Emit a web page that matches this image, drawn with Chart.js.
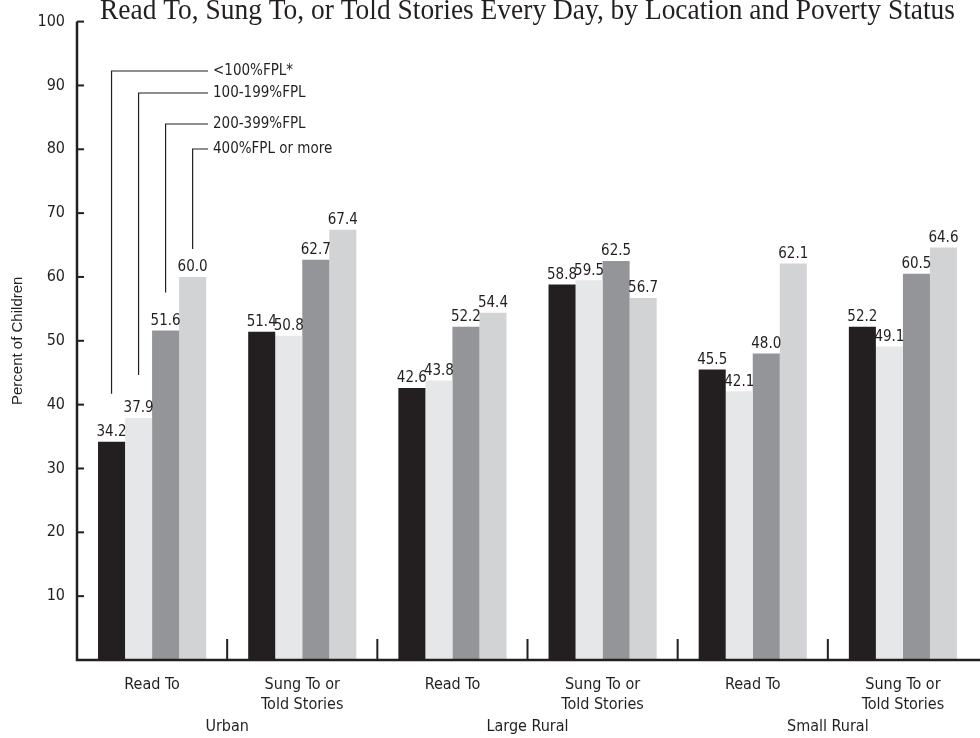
<!DOCTYPE html>
<html lang="en">
<head>
    <meta charset="UTF-8">
    <title>Read To, Sung To, or Told Stories Every Day</title>
    <script src="https://cdn.jsdelivr.net/npm/chart.js"></script>
    <style>
        body { margin: 0; background: #fff; }
        #wrap { width: 980px; height: 738px; }
    </style>
</head>
<body>
    <div id="wrap"><canvas id="chart" width="980" height="738"></canvas></div>

    <script>
        // data
        const activities = [
            ['Read To'], ['Sung To or', 'Told Stories'],
            ['Read To'], ['Sung To or', 'Told Stories'],
            ['Read To'], ['Sung To or', 'Told Stories']
        ];
        const locations = ['Urban', 'Large Rural', 'Small Rural'];
        const seriesNames = ['<100%FPL*', '100-199%FPL', '200-399%FPL', '400%FPL or more'];
        const below100 = [34.2, 51.4, 42.6, 58.8, 45.5, 52.2];
        const fpl100to199 = [37.9, 50.8, 43.8, 59.5, 42.1, 49.1];
        const fpl200to399 = [51.6, 62.7, 52.2, 62.5, 48.0, 60.5];
        const fpl400plus = [60.0, 67.4, 54.4, 56.7, 62.1, 64.6];
        const yTicks = [10, 20, 30, 40, 50, 60, 70, 80, 90, 100];

        const ink = '#231f20';
        const narrow = '"Liberation Sans Narrow", "DejaVu Sans Condensed", sans-serif';
        const colors = ['#231f20', '#e6e7e8', '#939598', '#d1d3d4'];
        const seriesData = [below100, fpl100to199, fpl200to399, fpl400plus];

        // leader lines for the legend: where each line turns and how far it stops above its bar (pixels)
        const leaderTurnY = [71, 93, 124, 149];
        const leaderGap = [48, 43, 38, 28];

        const decor = {
            id: 'decor',
            afterDatasetsDraw(chart) {
                const ctx = chart.ctx;
                const x = chart.scales.x, y = chart.scales.y;
                const area = chart.chartArea;
                ctx.save();

                // value labels
                ctx.fillStyle = ink;
                ctx.font = '15px ' + narrow;
                ctx.textAlign = 'center';
                ctx.textBaseline = 'bottom';
                chart.data.datasets.forEach((ds, di) => {
                    chart.getDatasetMeta(di).data.forEach((bar, i) => {
                        ctx.fillText(ds.data[i].toFixed(1), bar.x, bar.y - 2);
                    });
                });

                // axes
                ctx.strokeStyle = ink;
                ctx.lineWidth = 2.5;
                ctx.beginPath();
                ctx.moveTo(area.left, y.getPixelForValue(100));
                ctx.lineTo(area.left, area.bottom);
                ctx.lineTo(chart.width, area.bottom);
                ctx.stroke();

                ctx.lineWidth = 2;
                yTicks.forEach(v => {
                    const py = y.getPixelForValue(v);
                    ctx.beginPath();
                    ctx.moveTo(area.left, py);
                    ctx.lineTo(area.left + 7, py);
                    ctx.stroke();
                });

                // separators between categories
                for (let i = 0; i < activities.length - 1; i++) {
                    const sx = (x.getPixelForTick(i) + x.getPixelForTick(i + 1)) / 2;
                    ctx.beginPath();
                    ctx.moveTo(sx, area.bottom);
                    ctx.lineTo(sx, area.bottom - 21);
                    ctx.stroke();
                }

                // location labels
                ctx.font = '16px ' + narrow;
                ctx.textBaseline = 'middle';
                locations.forEach((name, g) => {
                    const cx = (x.getPixelForTick(g * 2) + x.getPixelForTick(g * 2 + 1)) / 2;
                    ctx.fillText(name, cx, 727);
                });

                // legend with leader lines
                ctx.lineWidth = 1.2;
                ctx.font = '15px ' + narrow;
                ctx.textAlign = 'left';
                const endX = 208;
                seriesNames.forEach((name, di) => {
                    const bar = chart.getDatasetMeta(di).data[0];
                    ctx.beginPath();
                    ctx.moveTo(bar.x, bar.y - leaderGap[di]);
                    ctx.lineTo(bar.x, leaderTurnY[di]);
                    ctx.lineTo(endX, leaderTurnY[di]);
                    ctx.stroke();
                    ctx.fillText(name, endX + 5, leaderTurnY[di]);
                });

                // title, cut at the top as in the reference
                const title = 'Read To, Sung To, or Told Stories Every Day, by Location and Poverty Status';
                ctx.font = '30px "Liberation Serif", "DejaVu Serif", serif';
                ctx.textAlign = 'center';
                ctx.textBaseline = 'alphabetic';
                const sx = 855 / ctx.measureText(title).width;
                ctx.save();
                ctx.translate((area.left + area.right) / 2, 19);
                ctx.scale(sx, 1);
                ctx.fillText(title, 0, 0);
                ctx.restore();

                // y axis title
                ctx.font = '15px "Liberation Sans", sans-serif';
                ctx.translate(18, (area.top + area.bottom) / 2);
                ctx.rotate(-Math.PI / 2);
                ctx.textBaseline = 'middle';
                ctx.fillText('Percent of Children', 0, 0);
                ctx.restore();
            }
        };

        new Chart(document.getElementById('chart').getContext('2d'), {
            type: 'bar',
            data: {
                labels: activities,
                datasets: seriesData.map((d, i) => ({
                    label: seriesNames[i],
                    data: d,
                    backgroundColor: colors[i],
                    borderWidth: 0,
                    categoryPercentage: 0.72,
                    barPercentage: 1
                }))
            },
            options: {
                responsive: false,
                animation: false,
                layout: { padding: { top: 16, right: 2, left: 0, bottom: 0 } },
                plugins: {
                    legend: { display: false },
                    tooltip: { enabled: false }
                },
                scales: {
                    x: {
                        grid: { display: false },
                        border: { display: false },
                        ticks: { color: ink, font: { family: narrow, size: 16, lineHeight: 1.3 }, padding: 6, maxRotation: 0 },
                        afterFit: s => { s.height = 78; }
                    },
                    y: {
                        min: 0,
                        max: 100,
                        grid: { display: false, drawTicks: false },
                        border: { display: false },
                        ticks: {
                            stepSize: 10,
                            padding: 12,
                            color: ink,
                            font: { family: narrow, size: 16 },
                            callback: v => (v === 0 ? '' : v)
                        },
                        afterFit: s => { s.width = 77; }
                    }
                }
            },
            plugins: [decor]
        });
    </script>
</body>
</html>
